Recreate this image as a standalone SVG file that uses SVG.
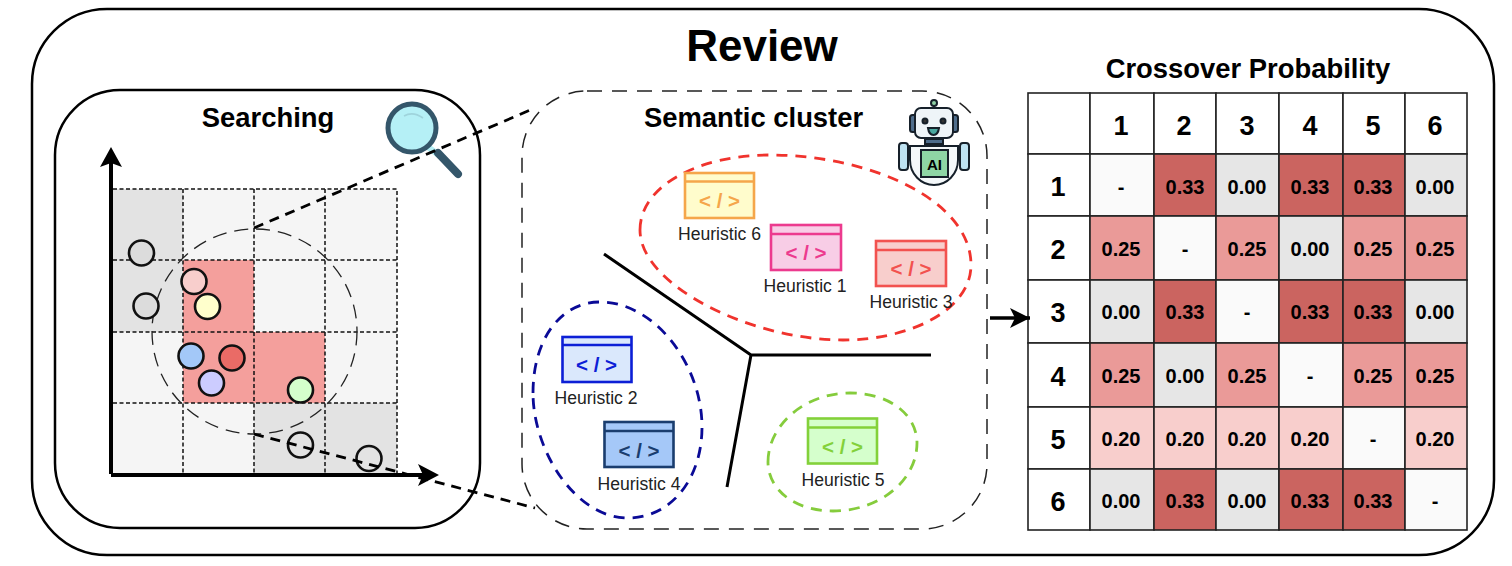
<svg xmlns="http://www.w3.org/2000/svg" width="1512" height="566" viewBox="0 0 1512 566">
<style>
text{font-family:"Liberation Sans",Arial,sans-serif;fill:#000}
.b{font-weight:700;text-anchor:middle}
.t{font-size:27.4px}
.hd{font-size:27px}
.v{font-size:20px}
.lab{font-size:17.6px;text-anchor:middle;fill:#222}
.code{font-size:20.5px;font-weight:700;text-anchor:middle}
.win{stroke-width:2.6}
.pt{stroke:#111;stroke-width:2.6}
.g{stroke:#111;stroke-width:1.5;stroke-dasharray:4 2.5;fill:none}
.cell{stroke:#222;stroke-width:1.6}
.box{fill:none;stroke:#000;stroke-width:2.5}
.cl{fill:none;stroke-width:2.8;stroke-dasharray:11 8}
.ln{fill:none;stroke:#000;stroke-width:3}
.dl{fill:none;stroke:#000;stroke-width:2.8;stroke-dasharray:10 7}
.m33{fill:#cb6460}.m25{fill:#ea9a98}.m20{fill:#f8cecc}.m00{fill:#e6e6e6}.mn{fill:#fafafa}.w{fill:#fff}
.n{fill:#f5f5f5}.y{fill:#e3e3e3}.r{fill:#f49f9c}
.rb{stroke:#16202a;stroke-width:2}
</style>
<defs>
<marker id="ah" markerUnits="userSpaceOnUse" markerWidth="24" markerHeight="24" refX="20" refY="12" orient="auto"><path d="M0,2 L20,12 L0,22 L5,12 Z" fill="#000"/></marker>
</defs>
<rect width="1512" height="566" fill="#fff"/>
<g id="review">
<rect class="box" x="32" y="9" width="1462" height="546" rx="75"/>
<text class="b" x="762" y="61" font-size="44">Review</text>
</g>
<g id="searching">
<rect class="box" x="55" y="90" width="425" height="438" rx="65"/>
<text class="b t" x="268" y="127">Searching</text>
<rect class="y" x="113" y="189" width="70" height="71"/><rect class="n" x="183" y="189" width="71" height="71"/><rect class="n" x="254" y="189" width="71" height="71"/><rect class="n" x="325" y="189" width="72" height="71"/>
<rect class="y" x="113" y="260" width="70" height="72"/><rect class="r" x="183" y="260" width="71" height="72"/><rect class="n" x="254" y="260" width="71" height="72"/><rect class="n" x="325" y="260" width="72" height="72"/>
<rect class="n" x="113" y="332" width="70" height="71"/><rect class="r" x="183" y="332" width="71" height="71"/><rect class="r" x="254" y="332" width="71" height="71"/><rect class="n" x="325" y="332" width="72" height="71"/>
<rect class="n" x="113" y="403" width="70" height="71"/><rect class="n" x="183" y="403" width="71" height="71"/><rect class="y" x="254" y="403" width="71" height="71"/><rect class="y" x="325" y="403" width="72" height="71"/>
<path class="g" d="M113,189H397V474M113,260H397M113,332H397M113,403H397M183,189V474M254,189V474M325,189V474"/>
<circle cx="254.5" cy="331.5" r="102.5" fill="none" stroke="#222" stroke-width="1.3" stroke-dasharray="14 8"/>
<circle class="pt" cx="141.5" cy="253" r="12.5" fill="#dcdcdc"/>
<circle class="pt" cx="146" cy="306" r="12.5" fill="#dcdcdc"/>
<circle class="pt" cx="194" cy="281.5" r="12.5" fill="#f8cecc"/>
<circle class="pt" cx="207.5" cy="306.5" r="12.5" fill="#ffffcc"/>
<circle class="pt" cx="191" cy="356" r="12.5" fill="#a3c8f8"/>
<circle class="pt" cx="232" cy="358" r="12.5" fill="#ea6b66"/>
<circle class="pt" cx="211.5" cy="383" r="12.5" fill="#ccccff"/>
<circle class="pt" cx="300.5" cy="390" r="12.5" fill="#d5ffcc"/>
<circle class="pt" cx="300.5" cy="445" r="12.5" fill="none"/>
<circle class="pt" cx="369" cy="458.5" r="12.5" fill="none"/>
<path d="M111,474V160M111,475H428" fill="none" stroke="#000" stroke-width="4"/>
<path d="M111,147L122,167L111,163L100,167Z M439,475L418,464L423,475L418,486Z" fill="#000"/>
</g>
<g id="magnifier">
<path d="M428,147L440,156" stroke="#b5f0f6" stroke-width="6"/>
<path d="M438,153L458,174" stroke="#34566a" stroke-width="8" stroke-linecap="round"/>
<circle cx="412" cy="128" r="24" fill="#b5f0f6" stroke="#34566a" stroke-width="5"/>
<path d="M404,116Q413,111 423,118" fill="none" stroke="#9fd4dc" stroke-width="1.6"/>
</g>
<g id="semantic-cluster">
<rect x="522" y="91" width="465" height="438" rx="65" fill="none" stroke="#222" stroke-width="1.5" stroke-dasharray="15 10"/>
<text class="b t" x="753.500" y="127">Semantic cluster</text>
</g>
<g id="robot">
<circle cx="934" cy="103" r="3" fill="#8fd0a5" class="rb"/>
<path class="rb" d="M934,106V109" fill="none"/>
<rect class="rb" x="910" y="115" width="7" height="17" rx="2.500" fill="#4e6d8c"/>
<rect class="rb" x="951" y="115" width="7" height="17" rx="2.500" fill="#4e6d8c"/>
<rect class="rb" x="915" y="108" width="38" height="30" rx="6" fill="#eef4f8"/>
<rect class="rb" x="925" y="139" width="18" height="5" fill="#4e6d8c"/>
<circle class="rb" cx="925" cy="121" r="2.500" fill="#333"/><circle class="rb" cx="943" cy="121" r="2.500" fill="#333"/>
<path class="rb" d="M928,128H939Q938,135 933.500,135Q929,135 928,128Z" fill="#4aa8a0"/>
<path class="rb" d="M910,146H958V160C958,174 947,185 934,185C921,185 910,174 910,160Z" fill="#f4f8fa"/>
<rect class="rb" x="899" y="143" width="9" height="27" rx="3" fill="#bfe3f2"/>
<rect class="rb" x="960" y="143" width="9" height="27" rx="3" fill="#bfe3f2"/>
<path class="rb" d="M908,149H910M958,149H960" fill="none"/>
<rect class="rb" x="921" y="150" width="27" height="27" fill="#8ed6a5"/>
<text class="b" x="934.500" y="169.500" font-size="15">AI</text>
</g>
<g id="cluster-red"><path class="cl" stroke="#f0332d" d="M640,230C640,185 700,155 770,155C870,155 971,200 971,265C971,310 910,340 843,340C750,340 640,285 640,230Z"/></g>
<g id="cluster-navy"><path class="cl" stroke="#0a0a96" d="M533,393C533,340 560,302 600,302C655,302 702,365 702,427C702,480 670,518 628,518C575,518 533,450 533,393Z"/></g>
<g id="cluster-green"><path class="cl" stroke="#85cc3c" d="M768,462C768,425 805,393 850,393C890,393 917,415 917,443C917,480 880,511 833,511C795,511 768,490 768,462Z"/></g>
<g id="heuristic-6"><rect class="win" x="685" y="173" width="69" height="45" fill="#fffccc" stroke="#f5a64a"/><path class="win" d="M685,181.500H754" stroke="#f5a64a"/><text class="code" x="719.500" y="208" style="fill:#f5a64a">&lt; / &gt;</text><text class="lab" x="719.500" y="240">Heuristic 6</text></g>
<g id="heuristic-1"><rect class="win" x="771" y="225" width="70" height="45" fill="#f8cde6" stroke="#ec3a8e"/><path class="win" d="M771,234H841" stroke="#ec3a8e"/><text class="code" x="806" y="260" style="fill:#ec3a8e">&lt; / &gt;</text><text class="lab" x="805" y="292">Heuristic 1</text></g>
<g id="heuristic-3"><rect class="win" x="876" y="241" width="70" height="45" fill="#f8cecc" stroke="#f2524f"/><path class="win" d="M876,250H946" stroke="#f2524f"/><text class="code" x="911" y="276" style="fill:#f2524f">&lt; / &gt;</text><text class="lab" x="911" y="308">Heuristic 3</text></g>
<g id="heuristic-2"><rect class="win" x="562.500" y="337" width="69" height="45" fill="#dae8fc" stroke="#0c1fd6"/><path class="win" d="M562.500,345H631.500" stroke="#0c1fd6"/><text class="code" x="596.500" y="372" style="fill:#0c1fd6">&lt; / &gt;</text><text class="lab" x="596" y="404">Heuristic 2</text></g>
<g id="heuristic-4"><rect class="win" x="604.500" y="422" width="69" height="45" fill="#a5c8f8" stroke="#1a3d6e"/><path class="win" d="M604.500,431H673.500" stroke="#1a3d6e"/><text class="code" x="639" y="458" style="fill:#1a3d6e">&lt; / &gt;</text><text class="lab" x="639" y="490">Heuristic 4</text></g>
<g id="heuristic-5"><rect class="win" x="808" y="418.500" width="69" height="45" fill="#d5ffcc" stroke="#83d13a"/><path class="win" d="M808,427.500H877" stroke="#83d13a"/><text class="code" x="842.500" y="454" style="fill:#83d13a">&lt; / &gt;</text><text class="lab" x="843" y="486">Heuristic 5</text></g>
<g id="crossover-table">
<text class="b" x="1248" y="78" font-size="27.400">Crossover Probability</text>
<g id="cells">
<rect class="cell w" x="1028" y="93" width="62" height="61"/><rect class="cell w" x="1090" y="93" width="64" height="61"/><rect class="cell w" x="1154" y="93" width="62" height="61"/><rect class="cell w" x="1216" y="93" width="63" height="61"/><rect class="cell w" x="1279" y="93" width="64" height="61"/><rect class="cell w" x="1343" y="93" width="62" height="61"/><rect class="cell w" x="1405" y="93" width="62" height="61"/>
<rect class="cell w" x="1028" y="154" width="62" height="62"/><rect class="cell mn" x="1090" y="154" width="64" height="62"/><rect class="cell m33" x="1154" y="154" width="62" height="62"/><rect class="cell m00" x="1216" y="154" width="63" height="62"/><rect class="cell m33" x="1279" y="154" width="64" height="62"/><rect class="cell m33" x="1343" y="154" width="62" height="62"/><rect class="cell m00" x="1405" y="154" width="62" height="62"/>
<rect class="cell w" x="1028" y="216" width="62" height="64"/><rect class="cell m25" x="1090" y="216" width="64" height="64"/><rect class="cell mn" x="1154" y="216" width="62" height="64"/><rect class="cell m25" x="1216" y="216" width="63" height="64"/><rect class="cell m00" x="1279" y="216" width="64" height="64"/><rect class="cell m25" x="1343" y="216" width="62" height="64"/><rect class="cell m25" x="1405" y="216" width="62" height="64"/>
<rect class="cell w" x="1028" y="280" width="62" height="63"/><rect class="cell m00" x="1090" y="280" width="64" height="63"/><rect class="cell m33" x="1154" y="280" width="62" height="63"/><rect class="cell mn" x="1216" y="280" width="63" height="63"/><rect class="cell m33" x="1279" y="280" width="64" height="63"/><rect class="cell m33" x="1343" y="280" width="62" height="63"/><rect class="cell m00" x="1405" y="280" width="62" height="63"/>
<rect class="cell w" x="1028" y="343" width="62" height="64"/><rect class="cell m25" x="1090" y="343" width="64" height="64"/><rect class="cell m00" x="1154" y="343" width="62" height="64"/><rect class="cell m25" x="1216" y="343" width="63" height="64"/><rect class="cell mn" x="1279" y="343" width="64" height="64"/><rect class="cell m25" x="1343" y="343" width="62" height="64"/><rect class="cell m25" x="1405" y="343" width="62" height="64"/>
<rect class="cell w" x="1028" y="407" width="62" height="62"/><rect class="cell m20" x="1090" y="407" width="64" height="62"/><rect class="cell m20" x="1154" y="407" width="62" height="62"/><rect class="cell m20" x="1216" y="407" width="63" height="62"/><rect class="cell m20" x="1279" y="407" width="64" height="62"/><rect class="cell mn" x="1343" y="407" width="62" height="62"/><rect class="cell m20" x="1405" y="407" width="62" height="62"/>
<rect class="cell w" x="1028" y="469" width="62" height="61"/><rect class="cell m00" x="1090" y="469" width="64" height="61"/><rect class="cell m33" x="1154" y="469" width="62" height="61"/><rect class="cell m00" x="1216" y="469" width="63" height="61"/><rect class="cell m33" x="1279" y="469" width="64" height="61"/><rect class="cell m33" x="1343" y="469" width="62" height="61"/><rect class="cell mn" x="1405" y="469" width="62" height="61"/>
</g>
<g class="b hd">
<text x="1121" y="135">1</text><text x="1184" y="135">2</text><text x="1247" y="135">3</text><text x="1310" y="135">4</text><text x="1373" y="135">5</text><text x="1435" y="135">6</text>
<text x="1058" y="196">1</text><text x="1058" y="259">2</text><text x="1058" y="322">3</text><text x="1058" y="386">4</text><text x="1058" y="449">5</text><text x="1058" y="511">6</text>
</g>
<g class="b v">
<text x="1121" y="194">-</text><text x="1185" y="194">0.33</text><text x="1247" y="194">0.00</text><text x="1310" y="194">0.33</text><text x="1373" y="194">0.33</text><text x="1435" y="194">0.00</text>
<text x="1121" y="256">0.25</text><text x="1185" y="256">-</text><text x="1247" y="256">0.25</text><text x="1310" y="256">0.00</text><text x="1373" y="256">0.25</text><text x="1435" y="256">0.25</text>
<text x="1121" y="319">0.00</text><text x="1185" y="319">0.33</text><text x="1247" y="319">-</text><text x="1310" y="319">0.33</text><text x="1373" y="319">0.33</text><text x="1435" y="319">0.00</text>
<text x="1121" y="383">0.25</text><text x="1185" y="383">0.00</text><text x="1247" y="383">0.25</text><text x="1310" y="383">-</text><text x="1373" y="383">0.25</text><text x="1435" y="383">0.25</text>
<text x="1121" y="446">0.20</text><text x="1185" y="446">0.20</text><text x="1247" y="446">0.20</text><text x="1310" y="446">0.20</text><text x="1373" y="446">-</text><text x="1435" y="446">0.20</text>
<text x="1121" y="508">0.00</text><text x="1185" y="508">0.33</text><text x="1247" y="508">0.00</text><text x="1310" y="508">0.33</text><text x="1373" y="508">0.33</text><text x="1435" y="508">-</text>
</g>
</g>
<g id="connectors">
<path class="ln" d="M604,254L751,355H931M751,355L727,487"/>
<path class="dl" d="M254,228L535,108"/>
<path class="dl" d="M254,434L535,508"/>
<path d="M990,318H1030" fill="none" stroke="#000" stroke-width="3.500" marker-end="url(#ah)"/>
</g>
</svg>
